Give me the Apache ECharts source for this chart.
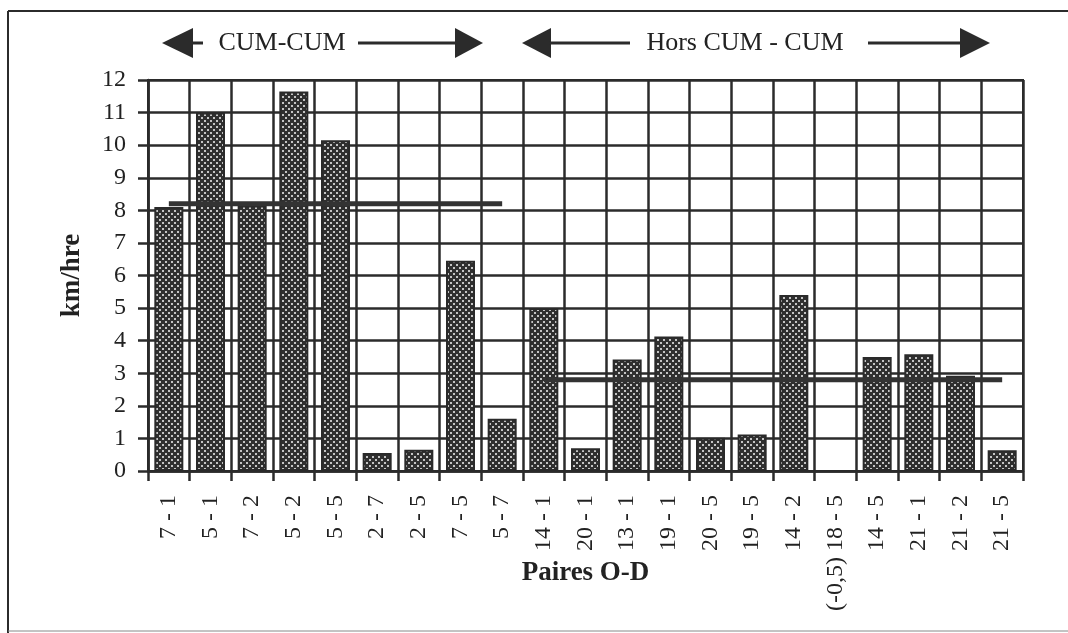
<!DOCTYPE html>
<html>
<head>
<meta charset="utf-8">
<script src="https://cdn.jsdelivr.net/npm/echarts@6/dist/echarts.min.js"></script>
<style>
html,body{margin:0;padding:0;background:#fff;}
#c{width:1068px;height:633px;}
</style>
</head>
<body>
<div id="c"></div>
<script>
const categories = ['7 - 1','5 - 1','7 - 2','5 - 2','5 - 5','2 - 7','2 - 5','7 - 5','5 - 7',
  '14 - 1','20 - 1','13 - 1','19 - 1','20 - 5','19 - 5','14 - 2','(-0,5) 18 - 5','14 - 5','21 - 1','21 - 2','21 - 5'];
const speeds = [8.1, 11.0, 8.15, 11.65, 10.15, 0.55, 0.65, 6.45, 1.6,
  5.0, 0.7, 3.42, 4.13, 1.02, 1.12, 5.4, null, 3.5, 3.58, 2.92, 0.64];
const avgCum = [8.2, 8.2, 8.2, 8.2, 8.2, 8.2, 8.2, 8.2, 8.2,
  null, null, null, null, null, null, null, null, null, null, null, null];
const avgHors = [null, null, null, null, null, null, null, null, null,
  2.8, 2.8, 2.8, 2.8, 2.8, 2.8, 2.8, 2.8, 2.8, 2.8, 2.8, 2.8];
const yTicks = [0,1,2,3,4,5,6,7,8,9,10,11,12];
const groupLabels = ['CUM-CUM', 'Hors CUM - CUM'];

const FONT = '"Liberation Serif", "DejaVu Serif", serif';
const INK = '#2b2b2b';

// stippled bar texture
const pat = document.createElement('canvas');
pat.width = 6; pat.height = 6;
const pc = pat.getContext('2d');
pc.fillStyle = '#2f2f2f'; pc.fillRect(0,0,6,6);
pc.fillStyle = '#c4c4c4';
pc.fillRect(0,0,2,2); pc.fillRect(3,3,2,2);

const chart = echarts.init(document.getElementById('c'), null, {renderer:'canvas'});

function arrowHead(tipX, baseX, cy, h) {
  return {type:'polygon', shape:{points:[[tipX,cy],[baseX,cy-h/2],[baseX,cy+h/2]]}, style:{fill:INK}, z:10};
}
function hline(x1, x2, y) {
  return {type:'line', shape:{x1:x1,y1:y,x2:x2,y2:y}, style:{stroke:INK, lineWidth:3}, z:10};
}

const option = {
  animation: false,
  backgroundColor: '#fff',
  grid: {left:148, right:45, top:80, bottom:162, show:true, borderColor:INK, borderWidth:2, backgroundColor:'transparent'},
  xAxis: {
    type:'category', data:categories, boundaryGap:true,
    axisLine:{show:true, lineStyle:{color:INK, width:2.5}},
    axisTick:{show:true, length:10, lineStyle:{color:INK, width:2.5}},
    splitLine:{show:true, lineStyle:{color:INK, width:2.5}},
    axisLabel:{rotate:90, margin:24, fontFamily:FONT, fontSize:24, color:'#222', interval:0},
    name:'Paires O-D', nameLocation:'middle', nameGap:89, nameMoveOverlap:false,
    nameTextStyle:{fontFamily:FONT, fontSize:27, fontWeight:'bold', color:'#222'}
  },
  yAxis: {
    type:'value', min:yTicks[0], max:yTicks[yTicks.length-1], interval:1,
    axisLine:{show:true, lineStyle:{color:INK, width:2.5}},
    axisTick:{show:true, length:10, lineStyle:{color:INK, width:2.5}},
    splitLine:{show:true, lineStyle:{color:INK, width:2.5}},
    axisLabel:{margin:22, fontFamily:FONT, fontSize:24, color:'#222'},
    name:'km/hre', nameLocation:'middle', nameGap:62, nameMoveOverlap:false,
    nameTextStyle:{fontFamily:FONT, fontSize:27, fontWeight:'bold', color:'#222'}
  },
  series: [
    {type:'bar', data:speeds, barWidth:29,
      itemStyle:{color:{image:pat, repeat:'repeat'}, borderColor:'#2a2a2a', borderWidth:2}, z:3},
    {type:'line', data:avgCum, symbol:'none', connectNulls:false,
      lineStyle:{color:'#333', width:5}, z:5},
    {type:'line', data:avgHors, symbol:'none', connectNulls:false,
      lineStyle:{color:'#333', width:5}, z:5}
  ],
  graphic: [
    {type:'line', shape:{x1:8,y1:11,x2:1068,y2:11}, style:{stroke:INK, lineWidth:2}},
    {type:'line', shape:{x1:8,y1:11,x2:8,y2:633}, style:{stroke:INK, lineWidth:2}},
    {type:'line', shape:{x1:8,y1:631,x2:1068,y2:631}, style:{stroke:'#888', lineWidth:1}},
    arrowHead(162, 193, 43, 30),
    hline(192, 203, 43),
    {type:'text', x:282, y:43, style:{text:groupLabels[0], font:'26px '+FONT, fill:'#222', textAlign:'center', textVerticalAlign:'middle'}, z:10},
    hline(358, 457, 43),
    arrowHead(483, 455, 43, 30),
    arrowHead(522, 551, 43, 30),
    hline(549, 630, 43),
    {type:'text', x:745, y:43, style:{text:groupLabels[1], font:'26px '+FONT, fill:'#222', textAlign:'center', textVerticalAlign:'middle'}, z:10},
    hline(868, 962, 43),
    arrowHead(990, 960, 43, 30)
  ]
};
chart.setOption(option);
</script>
</body>
</html>
